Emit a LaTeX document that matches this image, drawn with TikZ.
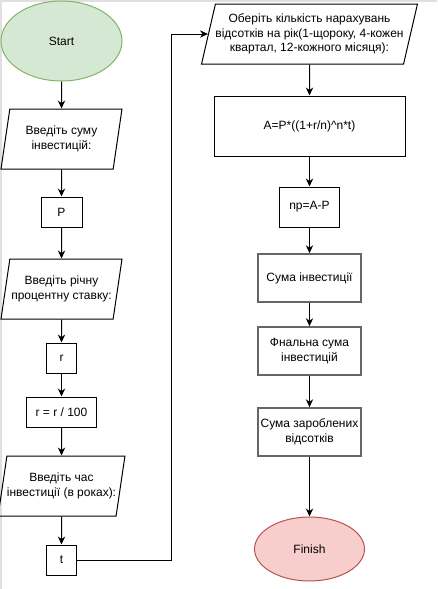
\documentclass[tikz,border=0pt]{standalone}
\usepackage{fontspec}
\setmainfont{Liberation Sans}
\usepackage{tikz}
\usetikzlibrary{arrows.meta,shapes.geometric}
\usepackage{xcolor}
\definecolor{start-green}{HTML}{D5E8D4}
\definecolor{start-edge}{HTML}{82B366}
\definecolor{finish-red}{HTML}{F8CECC}
\definecolor{finish-edge}{HTML}{B85450}
\definecolor{frame-gray}{HTML}{666666}
\tikzstyle{every node}=[font=\fontsize{9}{10.9}\selectfont, align=center, inner sep=0pt]
\tikzstyle{terminal}=[ellipse, draw, line width=0.75pt]
\tikzstyle{io}=[trapezium, trapezium left angle=71, trapezium right angle=109, trapezium stretches body, draw, line width=0.75pt, minimum height=45pt]
\tikzstyle{proc}=[rectangle, draw, line width=0.75pt]
\tikzstyle{outbox}=[rectangle, draw=frame-gray, line width=1.2pt, minimum width=77.25pt, minimum height=36pt]
\tikzstyle{flow}=[line width=0.75pt, -{Stealth[length=6pt,width=5.5pt]}]

\begin{document}
\begin{tikzpicture}[x=0.75pt, y=-0.75pt]
	\useasboundingbox (0,0) rectangle (437,589);
	\draw[black!12, line width=1.5pt] (0.5,589) -- (0.5,0.5) -- (437,0.5);
	% left column
	\node[terminal, fill=start-green, draw=start-edge, minimum width=90.75pt, minimum height=60pt] (start) at (61.5,41) {Start};
	\node[io, minimum width=90.75pt] (insum) at (61.5,139) {Введіть суму\\інвестицій:};
	\node[proc, minimum width=30.75pt, minimum height=22.5pt] (p) at (61.5,212) {P};
	\node[io, minimum width=90.75pt] (inrate) at (61.5,289) {Введіть річну\\процентну ставку:};
	\node[proc, minimum width=22.5pt, minimum height=22.5pt] (r) at (61.5,358) {r};
	\node[proc, minimum width=52.5pt, minimum height=22.5pt] (rdiv) at (61.5,412) {r = r / 100};
	\node[io, minimum width=90.75pt] (intime) at (61.5,486) {Введіть час\\інвестиції (в роках):};
	\node[proc, minimum width=22.5pt, minimum height=22.5pt] (t) at (61.5,560) {t};
	\coordinate (bend) at (171,560);
	% right column
	\node[io, minimum width=158.25pt] (inn) at (309.5,34) {Оберіть кількість нарахувань\\відсотків на рік(1-щороку, 4-кожен\\квартал, 12-кожного місяця):};
	\node[proc, minimum width=143.25pt, minimum height=45pt] (a) at (309.5,126) {A=P*((1+r/n)\^{}n*t)};
	\node[proc, minimum width=45pt, minimum height=30pt] (np) at (309.5,207) {np=A-P};
	\node[outbox] (sum) at (309.5,278) {Сума інвестиції};
	\node[outbox] (final) at (309.5,351) {Фнальна сума\\інвестицій};
	\node[outbox] (earned) at (309.5,432) {Сума зароблених\\відсотків};
	\node[terminal, fill=finish-red, draw=finish-edge, minimum width=82.5pt, minimum height=48pt] (finish) at (309.5,549) {Finish};

	\draw[flow] (start) -- (insum);
	\draw[flow] (insum) -- (p);
	\draw[flow] (p) -- (inrate);
	\draw[flow] (inrate) -- (r);
	\draw[flow] (r) -- (rdiv);
	\draw[flow] (rdiv) -- (intime);
	\draw[flow] (intime) -- (t);
	\draw[flow] (t) -- (bend) |- (inn.west);
	\draw[flow] (inn) -- (a);
	\draw[flow] (a) -- (np);
	\draw[flow] (np) -- (sum);
	\draw[flow] (sum) -- (final);
	\draw[flow] (final) -- (earned);
	\draw[flow] (earned) -- (finish);
\end{tikzpicture}
\end{document}
